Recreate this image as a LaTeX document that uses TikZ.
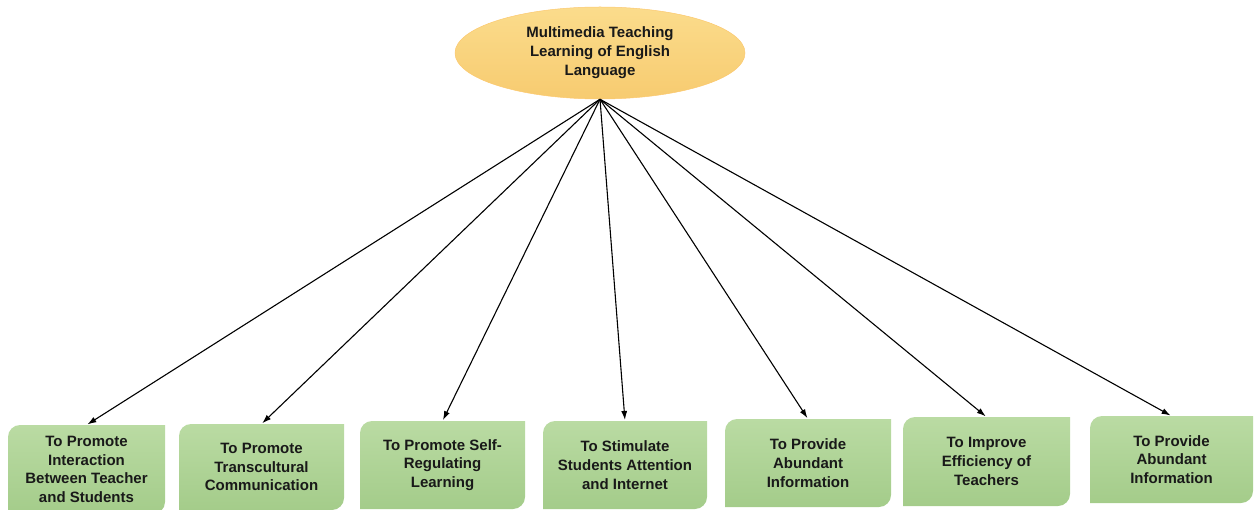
\documentclass[tikz,border=0pt]{standalone}
\usepackage{fontspec}
\setmainfont{Liberation Sans}
\usetikzlibrary{shapes.geometric,arrows.meta}
\definecolor{gtop}{RGB}{186,219,163}
\definecolor{gbot}{RGB}{164,204,138}
\definecolor{otop}{RGB}{251,220,140}
\definecolor{obot}{RGB}{247,203,112}
\newcommand\gbox[6]{%
  \shade[top color=gtop,bottom color=gbot] (#2,{-#3-12}) arc (180:90:12) -- (#4,-#3) -- (#4,{-#5+12}) arc (0:-90:12) -- (#2,-#5) -- cycle;
  \node[boxtxt] (#1) at ({(#2+#4)/2},{-(#3+#5)/2}) {#6};
  \coordinate (#1top) at ({(#2+#4)/2},-#3);
}
\begin{document}
\begin{tikzpicture}[x=1pt,y=1pt,
  boxtxt/.style={align=center,font=\fontsize{15}{18.7}\selectfont\bfseries,text=black!90,inner sep=0pt},
  conn/.style={-{Latex[length=9pt,width=6pt]},line width=1.1pt,shorten >=1pt}]
\useasboundingbox (0,0) rectangle (1255,-510);
\node[ellipse,minimum width=290pt,minimum height=92pt,inner sep=0pt,top color=otop,bottom color=obot,draw=otop!80!orange,line width=0.5pt,
  align=center,font=\fontsize{15}{19}\selectfont\bfseries,text=black!90] (top) at (600,-53)
  {Multimedia Teaching\\Learning of English\\Language};
\gbox{b1}{8}{425}{165}{514}{To Promote\\Interaction\\Between Teacher\\and Students}
\gbox{b2}{179}{424}{344}{510}{To Promote\\Transcultural\\Communication}
\gbox{b3}{360}{421}{525}{509}{To Promote Self-\\Regulating\\Learning}
\gbox{b4}{543}{421}{707}{509}{To Stimulate\\Students Attention\\and Internet}
\gbox{b5}{725}{419}{891}{507}{To Provide\\Abundant\\Information}
\gbox{b6}{903}{417}{1070}{506}{To Improve\\Efficiency of\\Teachers}
\gbox{b7}{1090}{416}{1253}{503}{To Provide\\Abundant\\Information}
\foreach \b in {b1,b2,b3,b4,b5,b6,b7}
  \draw[conn] (top.south) -- (\b top);
\end{tikzpicture}
\end{document}
